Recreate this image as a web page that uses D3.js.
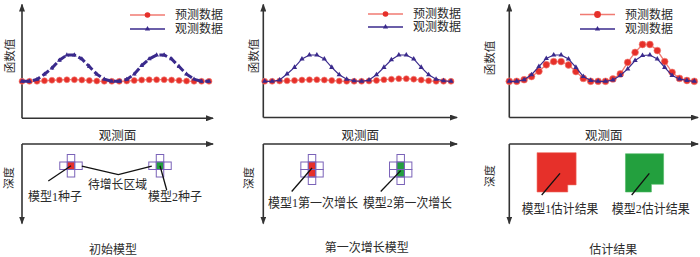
<!DOCTYPE html>
<html><head><meta charset="utf-8">
<script src="https://cdn.jsdelivr.net/npm/d3@7"></script>
<style>
body{margin:0;background:#fff}
svg{display:block}
text{font-family:"Liberation Serif","Noto Sans CJK SC",serif;fill:#2b2b2b}
</style>
</head><body>
<svg id="c" width="700" height="257"></svg>
<script>
// ---------- data ----------
const pointIdx = [0,1,2,3,4,5,6,7,8,9,10,11,12,13,14,15,16,17,18,19,20,21,22,23,24,25];
const obs1  = [0,0,0.07,0.27,0.5,0.8,1,1,0.85,0.56,0.27,0.08,0,0,0.07,0.27,0.6,0.85,1,1,0.85,0.56,0.27,0.08,0,0];
const pred1 = [0,0,0,0.02,0.04,0.05,0.06,0.06,0.05,0.03,0.01,0,0,0,0.01,0.03,0.05,0.06,0.06,0.06,0.05,0.03,0.01,0,0,0];
const obs2  = [0,0,0.05,0.28,0.53,0.85,1,1,0.85,0.53,0.25,0.08,0.02,0,0.05,0.25,0.53,0.82,1,1,0.85,0.53,0.25,0.08,0.02,0];
const pred2 = [0,0,0.01,0.02,0.03,0.05,0.06,0.06,0.05,0.03,0.01,0,0,0,0.01,0.03,0.06,0.08,0.1,0.1,0.08,0.05,0.02,0,0,0];
const obs3  = [0,0,0.06,0.25,0.56,0.87,1,1,0.85,0.53,0.18,0.03,0,0,0.05,0.22,0.47,0.79,0.98,1,0.85,0.53,0.22,0.09,0.03,0];
const pred3 = [0,0,0.06,0.18,0.38,0.63,0.75,0.75,0.62,0.37,0.11,0,0,0,0.09,0.28,0.72,1.1,1.4,1.4,1.17,0.75,0.34,0.11,0.03,0];
const legendLabels = ["预测数据","观测数据"];
const yLabel = "函数值", xLabel = "观测面", depthLabel = "深度";
const panelTitles = ["初始模型","第一次增长模型","估计结果"];
// seed columns (in observation-point units) for models 1 and 2
const seedCols1 = [6.55, 18.45];
const seedCols2 = [6.35, 18.25];
// cells: [column offset, depth row, filled]
const cross1 = [[0,-1,0],[-1,0,0],[0,0,1],[1,0,0],[0,1,0]];
const cross2 = [[0,-1,0],[-1,0,0],[0,0,1],[1,0,0],[-1,1,0],[0,1,1],[1,1,0],[0,2,0]];
// estimated bodies (column, depth row)
const body1 = [[3.75,-1.25],[9.03,-1.25],[9.03,3.05],[7.9,3.05],[7.9,4.0],[3.75,4.0]];
const body2 = [[15.7,-1.1],[20.85,-1.1],[20.85,2.97],[19.2,2.97],[19.2,4.0],[15.7,4.0]];
const labels1 = ["模型1种子","模型2种子","待增长区域"];
const labels2 = ["模型1第一次增长","模型2第一次增长"];
const labels3 = ["模型1估计结果","模型2估计结果"];

// ---------- drawing ----------
const svg = d3.select("#c");
const RED = "#e6302a", REDL = "#f07a72", BLUE = "#3a2a8c", PURP = "#7a62b8", GREEN = "#23a03e", AX = "#333";

const defs = svg.append("defs");
defs.append("marker").attr("id","arr").attr("viewBox","0 0 8 6").attr("refX",7).attr("refY",3)
  .attr("markerWidth",8).attr("markerHeight",6).attr("markerUnits","userSpaceOnUse").attr("orient","auto")
  .append("path").attr("d","M0,0L8,3L0,6Z").attr("fill",AX);

const panels = [
  {ax:22, px0:22, span:187, xEnd:213, xAxY:118.3, obs:obs1, pred:pred1, dashed:true,
   leg:{x1:130,x2:165,tx:175,y1:15,y2:29}, ylx:9.5, yly:56, dlx:8.5, dly:178, title:[113,249.5]},
  {ax:263.3, px0:264.7, span:186.3, xEnd:457, xAxY:117.5, obs:obs2, pred:pred2, dashed:false,
   leg:{x1:368,x2:403,tx:413,y1:14,y2:27}, ylx:254, yly:56, dlx:248.5, dly:178, title:[366.7,247.5]},
  {ax:509.3, px0:509.3, span:185, xEnd:698, xAxY:117.5, obs:obs3, pred:pred3, dashed:false,
   leg:{x1:580,x2:615,tx:625,y1:14.5,y2:29}, ylx:490, yly:58, dlx:490, dly:176, title:[613.3,249.5]}
];

const y = d3.scaleLinear().domain([0,1]).range([81.3,55]);
const gy = d3.scaleLinear().domain([0,1]).range([162,169.5]);

panels.forEach((p,pi)=>{
  const g = svg.append("g");
  const x = d3.scaleLinear().domain([0,25]).range([p.px0,p.px0+p.span]);
  p.x = x;
  // top axes
  g.append("line").attr("x1",p.ax).attr("y1",p.xAxY).attr("x2",p.ax).attr("y2",4.5)
    .attr("stroke",AX).attr("stroke-width",1.6).attr("marker-end","url(#arr)");
  g.append("line").attr("x1",p.ax).attr("y1",p.xAxY).attr("x2",p.xEnd).attr("y2",p.xAxY)
    .attr("stroke",AX).attr("stroke-width",1.6).attr("marker-end","url(#arr)");
  g.append("text").attr("transform",`translate(${p.ylx},${p.yly}) rotate(-90)`)
    .attr("text-anchor","middle").attr("dominant-baseline","central").attr("font-size",11.5).text(yLabel);

  const line = d3.line().x((d,i)=>x(pointIdx[i])).y(d=>y(d));
  // predicted
  g.append("path").attr("d",line(p.pred)).attr("fill","none").attr("stroke",REDL).attr("stroke-width",1.3);
  g.selectAll(".pc").data(p.pred).join("circle").attr("cx",(d,i)=>x(pointIdx[i])).attr("cy",d=>y(d))
    .attr("r",pi===2?3.4:3).attr("fill",RED).attr("stroke","#f2867e").attr("stroke-width",0.6);
  // observed
  g.append("path").attr("d",line(p.obs)).attr("fill","none").attr("stroke",BLUE)
    .attr("stroke-width",p.dashed?3:1.2).attr("stroke-dasharray",p.dashed?"8,3":null);
  const tri = d3.symbol().type(d3.symbolTriangle).size(p.dashed?10:12);
  g.selectAll(".bm").data(p.obs).join("path").attr("d",tri)
    .attr("transform",(d,i)=>`translate(${x(pointIdx[i])},${y(d)})`).attr("fill",BLUE);

  // legend
  const L = p.leg;
  g.append("line").attr("x1",L.x1).attr("x2",L.x2).attr("y1",L.y1).attr("y2",L.y1).attr("stroke",REDL).attr("stroke-width",1.5);
  g.append("circle").attr("cx",(L.x1+L.x2)/2).attr("cy",L.y1).attr("r",pi===2?3.4:2.8).attr("fill",RED);
  g.append("line").attr("x1",L.x1).attr("x2",L.x2).attr("y1",L.y2).attr("y2",L.y2).attr("stroke",BLUE).attr("stroke-width",1.3);
  g.append("path").attr("d",d3.symbol().type(d3.symbolTriangle).size(12)).attr("transform",`translate(${(L.x1+L.x2)/2},${L.y2})`).attr("fill",BLUE);
  g.append("text").attr("x",L.tx).attr("y",L.y1).attr("dominant-baseline","central").attr("font-size",12).text(legendLabels[0]);
  g.append("text").attr("x",L.tx).attr("y",L.y2).attr("dominant-baseline","central").attr("font-size",12).text(legendLabels[1]);

  // bottom axes
  g.append("line").attr("x1",p.ax).attr("y1",144).attr("x2",p.xEnd).attr("y2",144)
    .attr("stroke",AX).attr("stroke-width",1.6).attr("marker-end","url(#arr)");
  g.append("line").attr("x1",p.ax).attr("y1",144).attr("x2",p.ax).attr("y2",223.5)
    .attr("stroke",AX).attr("stroke-width",1.6).attr("marker-end","url(#arr)");
  g.append("text").attr("x",(p.ax+p.xEnd)/2).attr("y",135.5).attr("text-anchor","middle").attr("dominant-baseline","central")
    .attr("font-size",12.5).text(xLabel);
  g.append("text").attr("transform",`translate(${p.dlx},${p.dly}) rotate(-90)`)
    .attr("text-anchor","middle").attr("dominant-baseline","central").attr("font-size",11).text(depthLabel);
  g.append("text").attr("x",p.title[0]).attr("y",p.title[1]).attr("text-anchor","middle").attr("dominant-baseline","central")
    .attr("font-size",12).text(panelTitles[pi]);
});

function drawCells(p, seeds, cells){
  const x = p.x, w = x(1)-x(0), h = gy(1)-gy(0);
  seeds.forEach((s,si)=>{
    svg.append("g").selectAll("rect").data(cells).join("rect")
      .attr("x",d=>x(s+d[0]-0.5)).attr("y",d=>gy(d[1])).attr("width",w).attr("height",h)
      .attr("fill",d=>d[2]? (si===0?RED:GREEN) : "none")
      .attr("stroke",PURP).attr("stroke-width",1);
  });
}
function leader(x1,y1,x2,y2){
  svg.append("line").attr("x1",x1).attr("y1",y1).attr("x2",x2).attr("y2",y2).attr("stroke","#111").attr("stroke-width",1.3);
}
function label(t,xx,yy,fs,w){
  const el = svg.append("text").attr("x",xx).attr("y",yy).attr("dominant-baseline","central").attr("font-size",fs).text(t);
  if (w) el.attr("textLength",w).attr("lengthAdjust","spacingAndGlyphs");
}

// panel 1 bottom
{
  const p = panels[0];
  drawCells(p, seedCols1, cross1);
  const cy = gy(0.5);
  leader(48.3,181, p.x(seedCols1[0]), cy);
  leader(166.7,190, p.x(seedCols1[1]), cy);
  svg.append("polyline").attr("points",[[p.x(seedCols1[0]+1.45),gy(0.55)],[118.3,174.7],[p.x(seedCols1[1]-1.1),gy(0.55)]].join(" "))
    .attr("fill","none").attr("stroke","#111").attr("stroke-width",1.3);
  label(labels1[0],28,197,12.5,54);
  label(labels1[1],148,197,12.5,54);
  label(labels1[2],88,185,12.5,59);
}
// panel 2 bottom
{
  const p = panels[1];
  drawCells(p, seedCols2, cross2);
  leader(291.7,191.5, p.x(seedCols2[0]), gy(0.8));
  leader(380.7,191.5, p.x(seedCols2[1]), gy(1.15));
  label(labels2[0],268,202,13,90);
  label(labels2[1],363,202,13,89);
}
// panel 3 bottom
{
  const p = panels[2];
  const poly = d3.line().x(d=>p.x(d[0])).y(d=>gy(d[1]));
  svg.append("path").attr("d",poly(body1)+"Z").attr("fill",RED).attr("stroke","#ef6a60").attr("stroke-width",0.6);
  svg.append("path").attr("d",poly(body2)+"Z").attr("fill",GREEN).attr("stroke","#4db863").attr("stroke-width",0.6);
  leader(541.7,195, 560,173.3);
  leader(631.7,195, 649.3,173.3);
  label(labels3[0],521.7,208.5,13,76.5);
  label(labels3[1],611.7,208.5,13,78);
}
</script>
</body></html>
